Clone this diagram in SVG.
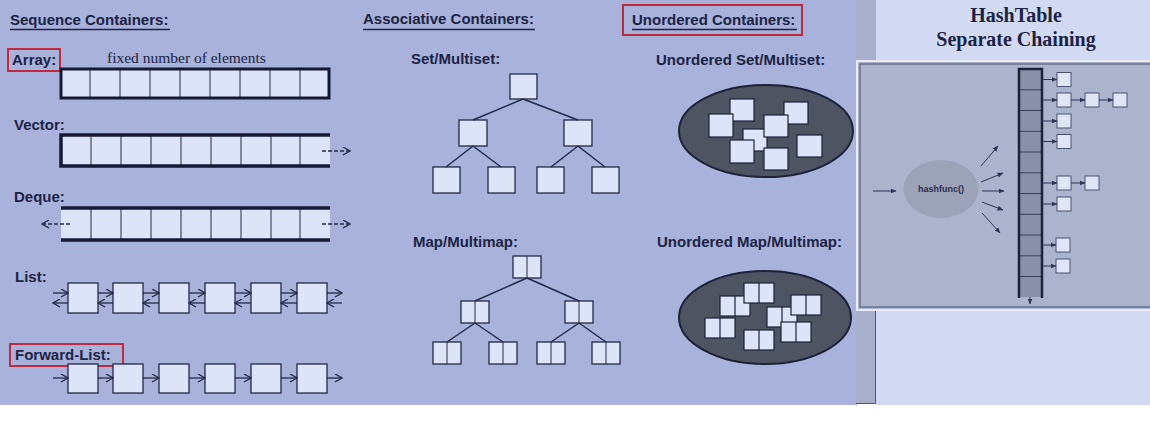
<svg xmlns="http://www.w3.org/2000/svg" xmlns:xlink="http://www.w3.org/1999/xlink" width="1150" height="422" viewBox="0 0 1150 422">
<defs>
<style>
.lbl{font-family:"Liberation Sans",Arial,sans-serif;font-weight:bold;font-size:15px;fill:#1c2345}
.ser{font-family:"Liberation Serif","Times New Roman",serif;font-size:15.5px;fill:#1c2345}
.ht{font-family:"Liberation Serif","Times New Roman",serif;font-weight:bold;font-size:20px;fill:#1c2345}
.box{fill:#dde4f7;stroke:#232a48;stroke-width:1.3}
.cell{fill:#dde4f7}
.div{stroke:#232a48;stroke-width:1}
.thick{stroke:#141a33;stroke-width:3.5}
.red{fill:none;stroke:#c02a40;stroke-width:2}
.ul{stroke:#1c2345;stroke-width:1.6}
.edge{stroke:#232a48;stroke-width:1.5;fill:none}
.arr{stroke:#232a48;stroke-width:1.3;fill:none;marker-end:url(#chev)}
.dash{stroke:#232a48;stroke-width:1.3;fill:none;stroke-dasharray:4 2;marker-end:url(#chev)}
.harr{stroke:#2e3556;stroke-width:1;fill:none;marker-end:url(#tri)}
.hbox{fill:#dfe5f5;stroke:#4a5270;stroke-width:1}
.ubox{fill:#dde4f7;stroke:#1c2238;stroke-width:1.2}
</style>
<marker id="chev" viewBox="0 0 9 9" refX="8" refY="4.5" markerWidth="9" markerHeight="9" markerUnits="userSpaceOnUse" orient="auto">
<path d="M1,0.5 L8,4.5 L1,8.5" fill="none" stroke="#232a48" stroke-width="1.3"/>
</marker>
<marker id="tri" viewBox="0 0 6 6" refX="5.5" refY="3" markerWidth="6" markerHeight="6" markerUnits="userSpaceOnUse" orient="auto">
<path d="M0,0.5 L6,3 L0,5.5 Z" fill="#2e3556"/>
</marker>
<g id="pair">
<rect x="0" y="0" width="28" height="22" class="box"/>
<line x1="14" y1="0" x2="14" y2="22" class="div"/>
</g>
<g id="upair">
<rect x="0" y="0" width="30" height="20" class="ubox"/>
<line x1="15" y1="0" x2="15" y2="20" stroke="#1c2238" stroke-width="1.2"/>
</g>
</defs>

<!-- backgrounds -->
<rect x="0" y="0" width="1150" height="422" fill="#ffffff"/>
<rect x="0" y="0" width="857" height="405" fill="#a8b2da"/>
<rect x="856" y="0" width="20" height="404" fill="#a9b0cb"/>
<rect x="876" y="0" width="274" height="405" fill="#d2daf3"/>
<path d="M875.5,310 L875.5,403.5 L856,403.5" fill="none" stroke="#4e556e" stroke-width="1"/>

<!-- Sequence containers -->
<g id="seq-title">
<text x="10" y="25" class="lbl">Sequence Containers:</text>
<line x1="10" y1="29.5" x2="170" y2="29.5" class="ul"/>
</g>

<g id="array">
<rect x="8" y="49" width="52" height="22" class="red"/>
<text x="12" y="65" class="lbl">Array:</text>
<text x="107" y="63" class="ser">fixed number of elements</text>
<rect x="61" y="69" width="268" height="29" class="cell"/>
<g class="div">
<line x1="90" y1="69" x2="90" y2="98"/><line x1="120" y1="69" x2="120" y2="98"/><line x1="150" y1="69" x2="150" y2="98"/><line x1="180" y1="69" x2="180" y2="98"/><line x1="210" y1="69" x2="210" y2="98"/><line x1="240" y1="69" x2="240" y2="98"/><line x1="270" y1="69" x2="270" y2="98"/><line x1="300" y1="69" x2="300" y2="98"/>
</g>
<rect x="61" y="69" width="268" height="29" fill="none" stroke="#141a33" stroke-width="3"/>
</g>

<g id="vector">
<text x="14" y="130" class="lbl">Vector:</text>
<rect x="61" y="135" width="269" height="31" class="cell"/>
<g class="div">
<line x1="91" y1="135" x2="91" y2="166"/><line x1="121" y1="135" x2="121" y2="166"/><line x1="151" y1="135" x2="151" y2="166"/><line x1="181" y1="135" x2="181" y2="166"/><line x1="211" y1="135" x2="211" y2="166"/><line x1="241" y1="135" x2="241" y2="166"/><line x1="271" y1="135" x2="271" y2="166"/><line x1="300" y1="135" x2="300" y2="166"/>
</g>
<path d="M330,135 L61,135 L61,166 L330,166" fill="none" class="thick"/>
</g>

<g id="deque">
<text x="14" y="202" class="lbl">Deque:</text>
<rect x="61" y="208" width="269" height="32" class="cell"/>
<g class="div">
<line x1="91" y1="208" x2="91" y2="240"/><line x1="121" y1="208" x2="121" y2="240"/><line x1="151" y1="208" x2="151" y2="240"/><line x1="181" y1="208" x2="181" y2="240"/><line x1="211" y1="208" x2="211" y2="240"/><line x1="241" y1="208" x2="241" y2="240"/><line x1="271" y1="208" x2="271" y2="240"/><line x1="300" y1="208" x2="300" y2="240"/>
</g>
<line x1="61" y1="208" x2="330" y2="208" class="thick"/>
<line x1="61" y1="240" x2="330" y2="240" class="thick"/>
</g>

<g id="list">
<text x="15" y="282" class="lbl">List:</text>
<rect x="68" y="283" width="30" height="30" class="box"/>
<rect x="113" y="283" width="30" height="30" class="box"/>
<rect x="159" y="283" width="30" height="30" class="box"/>
<rect x="205" y="283" width="30" height="30" class="box"/>
<rect x="251" y="283" width="30" height="30" class="box"/>
<rect x="297" y="283" width="30" height="30" class="box"/>
</g>

<g id="forward-list">
<rect x="10" y="344" width="113" height="22" class="red"/>
<text x="15" y="360" class="lbl">Forward-List:</text>
<rect x="68" y="364" width="30" height="29" class="box"/>
<rect x="113" y="364" width="30" height="29" class="box"/>
<rect x="159" y="364" width="30" height="29" class="box"/>
<rect x="205" y="364" width="30" height="29" class="box"/>
<rect x="251" y="364" width="30" height="29" class="box"/>
<rect x="297" y="364" width="30" height="29" class="box"/>
</g>

<!-- Associative containers -->
<g id="assoc-title">
<text x="363" y="24" class="lbl">Associative Containers:</text>
<line x1="363" y1="29.5" x2="535" y2="29.5" class="ul"/>
</g>

<g id="set-tree">
<text x="411" y="64" class="lbl">Set/Multiset:</text>
<rect x="510" y="74" width="27" height="25" class="box"/>
<rect x="459" y="120" width="28" height="26" class="box"/>
<rect x="564" y="120" width="28" height="26" class="box"/>
<rect x="433" y="167" width="27" height="26" class="box"/>
<rect x="488" y="167" width="27" height="26" class="box"/>
<rect x="537" y="167" width="27" height="26" class="box"/>
<rect x="592" y="167" width="27" height="26" class="box"/>
</g>

<g id="map-tree">
<text x="413" y="247" class="lbl">Map/Multimap:</text>
<use xlink:href="#pair" x="513" y="256"/>
<use xlink:href="#pair" x="461" y="301"/>
<use xlink:href="#pair" x="565" y="301"/>
<use xlink:href="#pair" x="433" y="342"/>
<use xlink:href="#pair" x="489" y="342"/>
<use xlink:href="#pair" x="537" y="342"/>
<use xlink:href="#pair" x="592" y="342"/>
</g>

<!-- Unordered containers -->
<g id="unordered-title">
<rect x="623" y="5" width="179" height="30" class="red"/>
<text x="632" y="25" class="lbl">Unordered Containers:</text>
<line x1="632" y1="29.5" x2="797" y2="29.5" class="ul"/>
</g>

<g id="unordered-set">
<text x="656" y="65" class="lbl">Unordered Set/Multiset:</text>
<ellipse cx="766" cy="131" rx="87" ry="46" fill="#4f5463" stroke="#1c2238" stroke-width="2"/>
<rect x="784" y="102" width="24" height="22" class="ubox"/>
<rect x="730" y="99" width="24" height="22" class="ubox"/>
<rect x="709" y="114" width="24" height="23" class="ubox"/>
<rect x="743" y="129" width="24" height="22" class="ubox"/>
<rect x="764" y="115" width="24" height="22" class="ubox"/>
<rect x="730" y="140" width="24" height="23" class="ubox"/>
<rect x="764" y="148" width="24" height="22" class="ubox"/>
<rect x="797" y="135" width="25" height="22" class="ubox"/>
</g>

<g id="unordered-map">
<text x="657" y="247" class="lbl">Unordered Map/Multimap:</text>
<ellipse cx="765" cy="317.5" rx="86" ry="46.5" fill="#4f5463" stroke="#1c2238" stroke-width="2"/>
<use xlink:href="#upair" x="720" y="296"/>
<use xlink:href="#upair" x="744" y="283"/>
<use xlink:href="#upair" x="767" y="307"/>
<use xlink:href="#upair" x="791" y="295"/>
<use xlink:href="#upair" x="781" y="322"/>
<use xlink:href="#upair" x="705" y="318"/>
<use xlink:href="#upair" x="744" y="330"/>
</g>

<!-- HashTable -->
<g id="hashtable">
<text x="1016" y="22" class="ht" text-anchor="middle">HashTable</text>
<text x="1016" y="46" class="ht" text-anchor="middle">Separate Chaining</text>
<rect x="857" y="61" width="300" height="249" fill="#abb3cd" stroke="#e8ecf8" stroke-width="2"/>
<rect x="860" y="64" width="300" height="243" fill="none" stroke="#4a5068" stroke-width="1"/>
</g>

<g id="hash-column">
<rect x="1019" y="69" width="23" height="228" fill="#8a90a8"/>
<g stroke="#3a4058" stroke-width="1">
<line x1="1019" y1="89.8" x2="1042" y2="89.8"/><line x1="1019" y1="110.5" x2="1042" y2="110.5"/><line x1="1019" y1="131.3" x2="1042" y2="131.3"/><line x1="1019" y1="152" x2="1042" y2="152"/><line x1="1019" y1="172.8" x2="1042" y2="172.8"/><line x1="1019" y1="193.5" x2="1042" y2="193.5"/><line x1="1019" y1="214.3" x2="1042" y2="214.3"/><line x1="1019" y1="235" x2="1042" y2="235"/><line x1="1019" y1="255.8" x2="1042" y2="255.8"/><line x1="1019" y1="276.5" x2="1042" y2="276.5"/>
</g>
<path d="M1019,298 L1019,69 L1042,69 L1042,298" fill="none" stroke="#1c2238" stroke-width="2.5"/>
</g>

<g id="hashfunc">
<ellipse cx="941" cy="189" rx="37.5" ry="29" fill="#9ca3b9"/>
<text x="941" y="192" text-anchor="middle" font-family="Liberation Sans, Arial, sans-serif" font-weight="bold" font-size="9" fill="#2a3050">hashfunc()</text>
</g>

<g id="chains">
<rect x="1057" y="72.5" width="14" height="14" class="hbox"/>
<rect x="1057" y="93" width="14" height="14" class="hbox"/>
<rect x="1085" y="93" width="14" height="14" class="hbox"/>
<rect x="1113" y="93" width="14" height="14" class="hbox"/>
<rect x="1057" y="114" width="14" height="14" class="hbox"/>
<rect x="1057" y="134.5" width="14" height="14" class="hbox"/>
<rect x="1057" y="176" width="14" height="14" class="hbox"/>
<rect x="1085" y="176" width="14" height="14" class="hbox"/>
<rect x="1057" y="197" width="14" height="14" class="hbox"/>
<rect x="1056" y="238" width="14" height="14" class="hbox"/>
<rect x="1056" y="259" width="14" height="14" class="hbox"/>
</g>

<!-- connectors -->
<g id="connectors">
<line x1="322" y1="151" x2="350" y2="151" class="dash"/>
<line x1="70" y1="224" x2="42" y2="224" class="dash"/>
<line x1="322" y1="224" x2="350" y2="224" class="dash"/>
<line x1="53" y1="293" x2="68" y2="293" class="arr"/><line x1="68" y1="303" x2="53" y2="303" class="arr"/>
<line x1="98" y1="293" x2="113" y2="293" class="arr"/><line x1="113" y1="303" x2="98" y2="303" class="arr"/>
<line x1="143" y1="293" x2="159" y2="293" class="arr"/><line x1="159" y1="303" x2="143" y2="303" class="arr"/>
<line x1="189" y1="293" x2="205" y2="293" class="arr"/><line x1="205" y1="303" x2="189" y2="303" class="arr"/>
<line x1="235" y1="293" x2="251" y2="293" class="arr"/><line x1="251" y1="303" x2="235" y2="303" class="arr"/>
<line x1="281" y1="293" x2="297" y2="293" class="arr"/><line x1="297" y1="303" x2="281" y2="303" class="arr"/>
<line x1="327" y1="293" x2="342" y2="293" class="arr"/><line x1="342" y1="303" x2="327" y2="303" class="arr"/>
<line x1="53" y1="378" x2="68" y2="378" class="arr"/>
<line x1="98" y1="378" x2="113" y2="378" class="arr"/>
<line x1="143" y1="378" x2="159" y2="378" class="arr"/>
<line x1="189" y1="378" x2="205" y2="378" class="arr"/>
<line x1="235" y1="378" x2="251" y2="378" class="arr"/>
<line x1="281" y1="378" x2="297" y2="378" class="arr"/>
<line x1="327" y1="378" x2="342" y2="378" class="arr"/>
<line x1="523" y1="99" x2="473" y2="120" class="edge"/>
<line x1="523" y1="99" x2="578" y2="120" class="edge"/>
<line x1="473" y1="146" x2="446" y2="167" class="edge"/>
<line x1="473" y1="146" x2="501" y2="167" class="edge"/>
<line x1="578" y1="146" x2="551" y2="167" class="edge"/>
<line x1="578" y1="146" x2="605" y2="167" class="edge"/>
<line x1="527" y1="278" x2="475" y2="301" class="edge"/>
<line x1="527" y1="278" x2="579" y2="301" class="edge"/>
<line x1="475" y1="323" x2="447" y2="342" class="edge"/>
<line x1="475" y1="323" x2="503" y2="342" class="edge"/>
<line x1="579" y1="323" x2="551" y2="342" class="edge"/>
<line x1="579" y1="323" x2="606" y2="342" class="edge"/>
<line x1="873" y1="191" x2="896" y2="191" class="harr"/>
<line x1="981" y1="166" x2="998" y2="146" class="harr"/>
<line x1="981" y1="182" x2="1003" y2="173" class="harr"/>
<line x1="982" y1="191" x2="1004" y2="191" class="harr"/>
<line x1="982" y1="202" x2="1003" y2="210" class="harr"/>
<line x1="982" y1="213" x2="1000" y2="233" class="harr"/>
<line x1="1030" y1="297" x2="1030" y2="304" class="harr"/>
<line x1="1042" y1="79.5" x2="1057" y2="79.5" class="harr"/>
<line x1="1042" y1="100" x2="1057" y2="100" class="harr"/>
<line x1="1071" y1="100" x2="1085" y2="100" class="harr"/>
<line x1="1099" y1="100" x2="1113" y2="100" class="harr"/>
<line x1="1042" y1="121" x2="1057" y2="121" class="harr"/>
<line x1="1042" y1="141.5" x2="1057" y2="141.5" class="harr"/>
<line x1="1042" y1="183" x2="1057" y2="183" class="harr"/>
<line x1="1071" y1="183" x2="1085" y2="183" class="harr"/>
<line x1="1042" y1="204" x2="1057" y2="204" class="harr"/>
<line x1="1042" y1="245" x2="1056" y2="245" class="harr"/>
<line x1="1042" y1="266" x2="1056" y2="266" class="harr"/>
</g>
</svg>
